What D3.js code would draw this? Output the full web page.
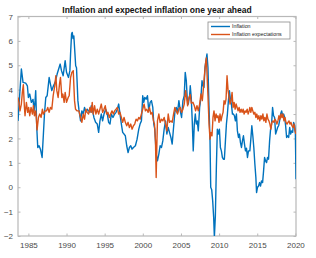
<!DOCTYPE html>
<html>
<head>
<meta charset="utf-8">
<script src="https://cdn.jsdelivr.net/npm/d3@7"></script>
<style>
  body { margin: 0; background: #fff; }
  svg { display: block; font-family: "Liberation Sans", Arial, sans-serif; }
</style>
</head>
<body>
<svg id="chart" width="316" height="258"></svg>
<script>
// Data (year as decimal, percent)
const inflation = [
  [1983.64, 2.72], [1984.08, 4.85], [1984.30, 4.3], [1984.65, 4.27], [1984.87, 4.16],
  [1985.0, 3.68], [1985.18, 3.82], [1985.39, 3.48], [1985.61, 3.6], [1985.75, 3.13],
  [1985.88, 3.55], [1985.96, 3.96], [1986.10, 2.45], [1986.23, 1.63], [1986.40, 1.7],
  [1986.58, 1.56], [1986.80, 1.22], [1986.97, 2.18], [1987.11, 3.0], [1987.28, 3.68],
  [1987.46, 3.75], [1987.63, 4.23], [1987.72, 4.5], [1987.89, 4.23], [1988.07, 3.96],
  [1988.29, 4.16], [1988.51, 4.3], [1988.77, 4.64], [1989.17, 5.05], [1989.34, 4.78],
  [1989.56, 4.57], [1989.82, 5.19], [1990.0, 4.71], [1990.26, 4.5], [1990.44, 4.78],
  [1990.53, 5.46], [1990.66, 6.28], [1990.75, 6.35], [1990.85, 6.1], [1990.96, 6.2],
  [1991.1, 5.5], [1991.2, 4.98], [1991.31, 4.9], [1991.4, 4.23], [1991.49, 3.55],
  [1991.62, 3.2], [1991.84, 2.72], [1992.01, 3.13], [1992.19, 3.0], [1992.36, 3.27],
  [1992.54, 3.07], [1992.71, 3.2], [1992.89, 3.13], [1993.07, 3.07], [1993.24, 3.34],
  [1993.42, 3.13], [1993.59, 2.86], [1993.81, 2.66], [1994.03, 2.59], [1994.21, 2.25],
  [1994.38, 2.72], [1994.56, 3.0], [1994.73, 2.72], [1994.91, 3.0], [1995.13, 3.2],
  [1995.35, 3.0], [1995.52, 2.66], [1995.70, 2.59], [1995.87, 3.0], [1996.09, 2.86],
  [1996.31, 3.0], [1996.49, 3.07], [1996.66, 3.2], [1996.84, 3.41], [1997.01, 3.0],
  [1997.19, 2.59], [1997.36, 2.25], [1997.54, 2.18], [1997.71, 2.11], [1997.89, 1.7],
  [1998.07, 1.42], [1998.24, 1.63], [1998.42, 1.7], [1998.59, 1.56], [1998.77, 1.63],
  [1999.03, 1.7], [1999.25, 1.97], [1999.47, 2.38], [1999.64, 2.59], [1999.82, 2.72],
  [1999.99, 3.75], [2000.13, 3.48], [2000.26, 3.68], [2000.43, 3.61], [2000.61, 3.75],
  [2000.78, 3.13], [2000.96, 3.48], [2001.13, 3.55], [2001.31, 3.27], [2001.44, 2.59],
  [2001.57, 2.38], [2001.75, 1.36], [2001.92, 1.08], [2002.10, 1.36], [2002.27, 1.7],
  [2002.45, 1.63], [2002.62, 1.9], [2002.80, 2.38], [2002.98, 2.72], [2003.15, 2.18],
  [2003.33, 2.45], [2003.50, 2.25], [2003.68, 2.04], [2003.85, 1.77], [2004.03, 2.45],
  [2004.20, 3.07], [2004.38, 3.27], [2004.55, 3.07], [2004.73, 3.55], [2004.91, 3.13],
  [2005.08, 2.86], [2005.26, 3.55], [2005.43, 3.75], [2005.56, 4.71], [2005.70, 4.37],
  [2005.83, 3.61], [2005.96, 3.41], [2006.13, 3.75], [2006.22, 4.16], [2006.35, 3.68],
  [2006.48, 2.72], [2006.61, 1.49], [2006.75, 2.59], [2006.88, 3.0], [2007.01, 2.59],
  [2007.14, 2.72], [2007.27, 2.31], [2007.45, 3.27], [2007.62, 3.68], [2007.76, 4.37],
  [2007.89, 4.16], [2008.02, 4.09], [2008.15, 4.91], [2008.28, 5.19], [2008.41, 5.46],
  [2008.54, 4.91], [2008.68, 3.27], [2008.81, 1.9], [2008.90, 0.0], [2009.03, -0.1],
  [2009.16, -0.56], [2009.29, -1.25], [2009.38, -2.05], [2009.51, -1.18], [2009.64, 0.8],
  [2009.77, 2.38], [2009.90, 2.18], [2010.04, 2.38], [2010.17, 1.63], [2010.30, 1.49],
  [2010.43, 1.22], [2010.56, 1.15], [2010.69, 1.15], [2010.83, 1.9], [2010.96, 2.59],
  [2011.09, 3.0], [2011.22, 3.55], [2011.35, 3.96], [2011.48, 3.61], [2011.61, 3.41],
  [2011.75, 3.0], [2011.88, 3.0], [2012.01, 2.93], [2012.14, 2.72], [2012.27, 3.0],
  [2012.40, 2.31], [2012.54, 2.04], [2012.67, 2.18], [2012.80, 1.83], [2012.93, 1.63],
  [2013.06, 1.9], [2013.19, 2.11], [2013.33, 1.77], [2013.46, 1.49], [2013.59, 1.6],
  [2013.72, 1.22], [2013.85, 1.49], [2014.03, 1.49], [2014.16, 1.97], [2014.29, 2.52],
  [2014.42, 2.11], [2014.55, 1.63], [2014.69, 0.94], [2014.82, 0.4], [2014.91, -0.22],
  [2015.04, 0.0], [2015.17, 0.05], [2015.30, 0.19], [2015.43, 0.05], [2015.56, 0.26],
  [2015.70, 0.19], [2015.83, 0.67], [2015.96, 1.22], [2016.09, 1.08], [2016.22, 1.01],
  [2016.35, 1.22], [2016.48, 1.15], [2016.62, 1.9], [2016.75, 2.38], [2016.88, 2.59],
  [2017.01, 3.27], [2017.14, 2.93], [2017.27, 2.86], [2017.41, 2.18], [2017.54, 2.31],
  [2017.67, 2.45], [2017.80, 2.52], [2017.93, 2.72], [2018.06, 3.0], [2018.20, 3.13],
  [2018.33, 2.93], [2018.46, 3.0], [2018.59, 2.86], [2018.72, 2.52], [2018.85, 2.04],
  [2018.98, 2.11], [2019.12, 2.04], [2019.25, 2.45], [2019.38, 2.18], [2019.51, 2.31],
  [2019.64, 2.25], [2019.77, 2.66], [2019.91, 2.52], [2020.0, 2.18], [2020.08, 0.33]
];

const expectations = [
  [1983.64, 3.68], [1983.77, 3.48], [1983.90, 3.13], [1984.08, 3.41], [1984.21, 3.89],
  [1984.34, 4.2], [1984.47, 3.34], [1984.56, 2.93], [1984.74, 3.48], [1984.91, 3.07],
  [1985.04, 3.27], [1985.18, 2.93], [1985.35, 3.27], [1985.53, 3.0], [1985.66, 3.34],
  [1985.79, 2.93], [1985.96, 3.13], [1986.05, 2.79], [1986.14, 2.35], [1986.32, 2.86],
  [1986.49, 3.0], [1986.67, 2.86], [1986.84, 3.2], [1986.97, 3.0], [1987.19, 3.13],
  [1987.37, 3.13], [1987.54, 3.27], [1987.72, 3.07], [1987.89, 3.27], [1988.07, 3.2],
  [1988.25, 3.75], [1988.46, 4.16], [1988.60, 4.57], [1988.73, 3.96], [1988.90, 3.68],
  [1989.08, 4.23], [1989.21, 4.5], [1989.39, 3.68], [1989.52, 3.82], [1989.69, 3.48],
  [1989.82, 3.89], [1990.0, 3.48], [1990.22, 3.68], [1990.35, 3.75], [1990.53, 4.5],
  [1990.70, 4.71], [1990.88, 4.78], [1991.05, 3.55], [1991.18, 3.2], [1991.40, 3.13],
  [1991.62, 3.13], [1991.84, 2.86], [1992.01, 2.66], [1992.19, 3.0], [1992.36, 2.79],
  [1992.54, 3.2], [1992.71, 3.07], [1992.89, 3.0], [1993.07, 3.27], [1993.24, 3.07],
  [1993.37, 3.48], [1993.50, 3.0], [1993.68, 3.34], [1993.85, 3.0], [1994.03, 3.2],
  [1994.21, 3.0], [1994.38, 3.2], [1994.56, 3.41], [1994.73, 3.07], [1994.91, 3.2],
  [1995.08, 3.34], [1995.26, 3.0], [1995.43, 3.07], [1995.61, 2.86], [1995.78, 3.0],
  [1995.96, 3.13], [1996.14, 3.0], [1996.31, 3.13], [1996.49, 3.2], [1996.66, 3.27],
  [1996.84, 3.0], [1997.01, 3.07], [1997.19, 2.86], [1997.36, 2.66], [1997.54, 2.86],
  [1997.71, 2.66], [1997.89, 2.52], [1998.07, 2.66], [1998.24, 2.45], [1998.42, 2.59],
  [1998.59, 2.38], [1998.77, 2.52], [1998.94, 2.59], [1999.12, 2.79], [1999.29, 2.72],
  [1999.47, 2.86], [1999.64, 2.79], [1999.82, 3.0], [1999.99, 3.2], [2000.17, 3.41],
  [2000.34, 3.13], [2000.52, 3.2], [2000.70, 3.07], [2000.87, 3.27], [2001.05, 3.0],
  [2001.22, 3.07], [2001.40, 2.72], [2001.53, 2.59], [2001.66, 1.9], [2001.75, 0.4],
  [2001.84, 1.7], [2001.92, 2.72], [2002.10, 3.0], [2002.27, 2.66], [2002.45, 2.79],
  [2002.62, 2.72], [2002.80, 2.86], [2002.98, 2.59], [2003.15, 2.31], [2003.33, 3.0],
  [2003.50, 2.66], [2003.68, 2.72], [2003.85, 2.66], [2004.03, 3.0], [2004.20, 3.27],
  [2004.38, 3.13], [2004.55, 3.0], [2004.73, 3.2], [2004.91, 3.27], [2005.08, 3.07],
  [2005.26, 3.2], [2005.43, 3.41], [2005.61, 3.96], [2005.74, 3.68], [2005.87, 3.34],
  [2006.05, 3.68], [2006.22, 3.8], [2006.35, 3.45], [2006.57, 3.48], [2006.75, 3.34],
  [2006.92, 3.13], [2007.10, 3.34], [2007.27, 3.13], [2007.45, 3.41], [2007.62, 3.82],
  [2007.80, 3.55], [2007.97, 4.16], [2008.11, 4.71], [2008.24, 5.12], [2008.33, 5.3],
  [2008.41, 4.71], [2008.54, 3.75], [2008.68, 2.59], [2008.81, 1.97], [2008.94, 2.25],
  [2009.07, 2.11], [2009.20, 2.86], [2009.33, 3.13], [2009.47, 2.72], [2009.60, 3.0],
  [2009.73, 2.86], [2009.86, 2.93], [2009.99, 2.66], [2010.12, 3.0], [2010.25, 2.72],
  [2010.39, 2.93], [2010.52, 3.07], [2010.65, 3.55], [2010.78, 3.41], [2010.91, 3.61],
  [2011.04, 4.57], [2011.18, 3.96], [2011.31, 3.68], [2011.44, 3.41], [2011.57, 3.55],
  [2011.70, 3.89], [2011.83, 3.27], [2011.97, 3.48], [2012.10, 3.2], [2012.23, 3.41],
  [2012.36, 3.27], [2012.49, 3.13], [2012.62, 3.27], [2012.75, 3.07], [2012.89, 3.2],
  [2013.02, 3.07], [2013.15, 3.2], [2013.28, 3.0], [2013.41, 3.13], [2013.54, 3.07],
  [2013.68, 3.2], [2013.81, 3.0], [2013.94, 3.13], [2014.03, 3.27], [2014.16, 3.07],
  [2014.29, 3.27], [2014.42, 3.13], [2014.55, 3.0], [2014.69, 3.07], [2014.82, 2.86],
  [2014.95, 3.0], [2015.08, 2.79], [2015.21, 2.93], [2015.34, 2.72], [2015.48, 2.93],
  [2015.61, 2.79], [2015.74, 3.0], [2015.87, 2.72], [2016.00, 2.86], [2016.13, 2.66],
  [2016.27, 3.0], [2016.40, 2.79], [2016.53, 2.72], [2016.66, 2.59], [2016.79, 2.38],
  [2016.92, 2.66], [2017.05, 2.72], [2017.19, 2.66], [2017.32, 2.79], [2017.45, 2.72],
  [2017.58, 2.59], [2017.71, 2.72], [2017.84, 2.93], [2017.98, 2.79], [2018.11, 3.0],
  [2018.24, 2.86], [2018.37, 3.0], [2018.50, 2.72], [2018.63, 2.86], [2018.77, 2.66],
  [2018.90, 2.59], [2019.03, 2.66], [2019.16, 2.72], [2019.29, 2.59], [2019.42, 2.66],
  [2019.55, 2.52], [2019.68, 2.45], [2019.82, 2.59], [2019.95, 2.31], [2020.08, 2.18]
];

const xTicks = [1985, 1990, 1995, 2000, 2005, 2010, 2015, 2020];
const yTicks = [-2, -1, 0, 1, 2, 3, 4, 5, 6, 7];
const seriesNames = ["Inflation", "Inflation expectations"];
const colors = ["#0072BD", "#D95319"];

// Layout
const svg = d3.select("#chart");
const plot = { left: 18, right: 296, top: 16.5, bottom: 236 };

const x = d3.scaleLinear()
  .domain(d3.extent(inflation, d => d[0]))
  .range([plot.left, plot.right]);
const y = d3.scaleLinear()
  .domain([-2, 7])
  .range([plot.bottom, plot.top]);

const axisColor = "#b8b8b8";
const labelColor = "#4a4a4a";

svg.append("defs").append("clipPath").attr("id", "clip")
  .append("rect")
    .attr("x", plot.left).attr("y", plot.top)
    .attr("width", plot.right - plot.left)
    .attr("height", plot.bottom - plot.top);

// box
svg.append("rect")
  .attr("x", plot.left).attr("y", plot.top)
  .attr("width", plot.right - plot.left)
  .attr("height", plot.bottom - plot.top)
  .attr("fill", "none")
  .attr("stroke", axisColor)
  .attr("stroke-width", 1.2);

// axes (ticks inward, MATLAB style)
function styleAxis(g) {
  g.select(".domain").remove();
  g.selectAll(".tick line").attr("stroke", axisColor).attr("stroke-width", 1);
  g.selectAll(".tick text")
    .attr("fill", labelColor)
    .style("font-size", "8px");
}

svg.append("g")
  .attr("transform", `translate(0,${plot.bottom})`)
  .call(d3.axisBottom(x).tickValues(xTicks).tickFormat(d3.format("d"))
    .tickSizeInner(-2.5).tickSizeOuter(0).tickPadding(6))
  .call(styleAxis);

svg.append("g")
  .attr("transform", `translate(0,${plot.top})`)
  .call(d3.axisTop(x).tickValues(xTicks).tickFormat("")
    .tickSizeInner(-2.5).tickSizeOuter(0))
  .call(styleAxis);

svg.append("g")
  .attr("transform", `translate(${plot.left},0)`)
  .call(d3.axisLeft(y).tickValues(yTicks).tickFormat(d3.format("d"))
    .tickSizeInner(-2.5).tickSizeOuter(0).tickPadding(5))
  .call(styleAxis);

svg.append("g")
  .attr("transform", `translate(${plot.right},0)`)
  .call(d3.axisRight(y).tickValues(yTicks).tickFormat("")
    .tickSizeInner(-2.5).tickSizeOuter(0))
  .call(styleAxis);

// lines
const line = d3.line().x(d => x(d[0])).y(d => y(d[1]));
const lineG = svg.append("g").attr("clip-path", "url(#clip)");

[inflation, expectations].forEach((series, i) => {
  lineG.append("path")
    .datum(series)
    .attr("fill", "none")
    .attr("stroke", colors[i])
    .attr("stroke-width", 1.4)
    .attr("stroke-linejoin", "round")
    .attr("d", line);
});

// title
svg.append("text")
  .attr("x", 157).attr("y", 12.5)
  .attr("text-anchor", "middle")
  .style("font-size", "8.5px")
  .style("font-weight", "bold")
  .attr("fill", "#111")
  .text("Inflation and expected inflation one year ahead");

// legend
const legend = svg.append("g").attr("transform", "translate(208,22)");
legend.append("rect")
  .attr("width", 82).attr("height", 17)
  .attr("fill", "#fff")
  .attr("stroke", "#8a8a8a")
  .attr("stroke-width", 0.8);

seriesNames.forEach((name, i) => {
  const row = legend.append("g").attr("transform", `translate(0,${4.5 + i * 8})`);
  row.append("line")
    .attr("x1", 3).attr("x2", 22)
    .attr("stroke", colors[i]).attr("stroke-width", 1.4);
  row.append("text")
    .attr("x", 24).attr("dy", "0.35em")
    .style("font-size", "5.3px")
    .attr("fill", "#222")
    .text(name);
});
</script>
</body>
</html>
